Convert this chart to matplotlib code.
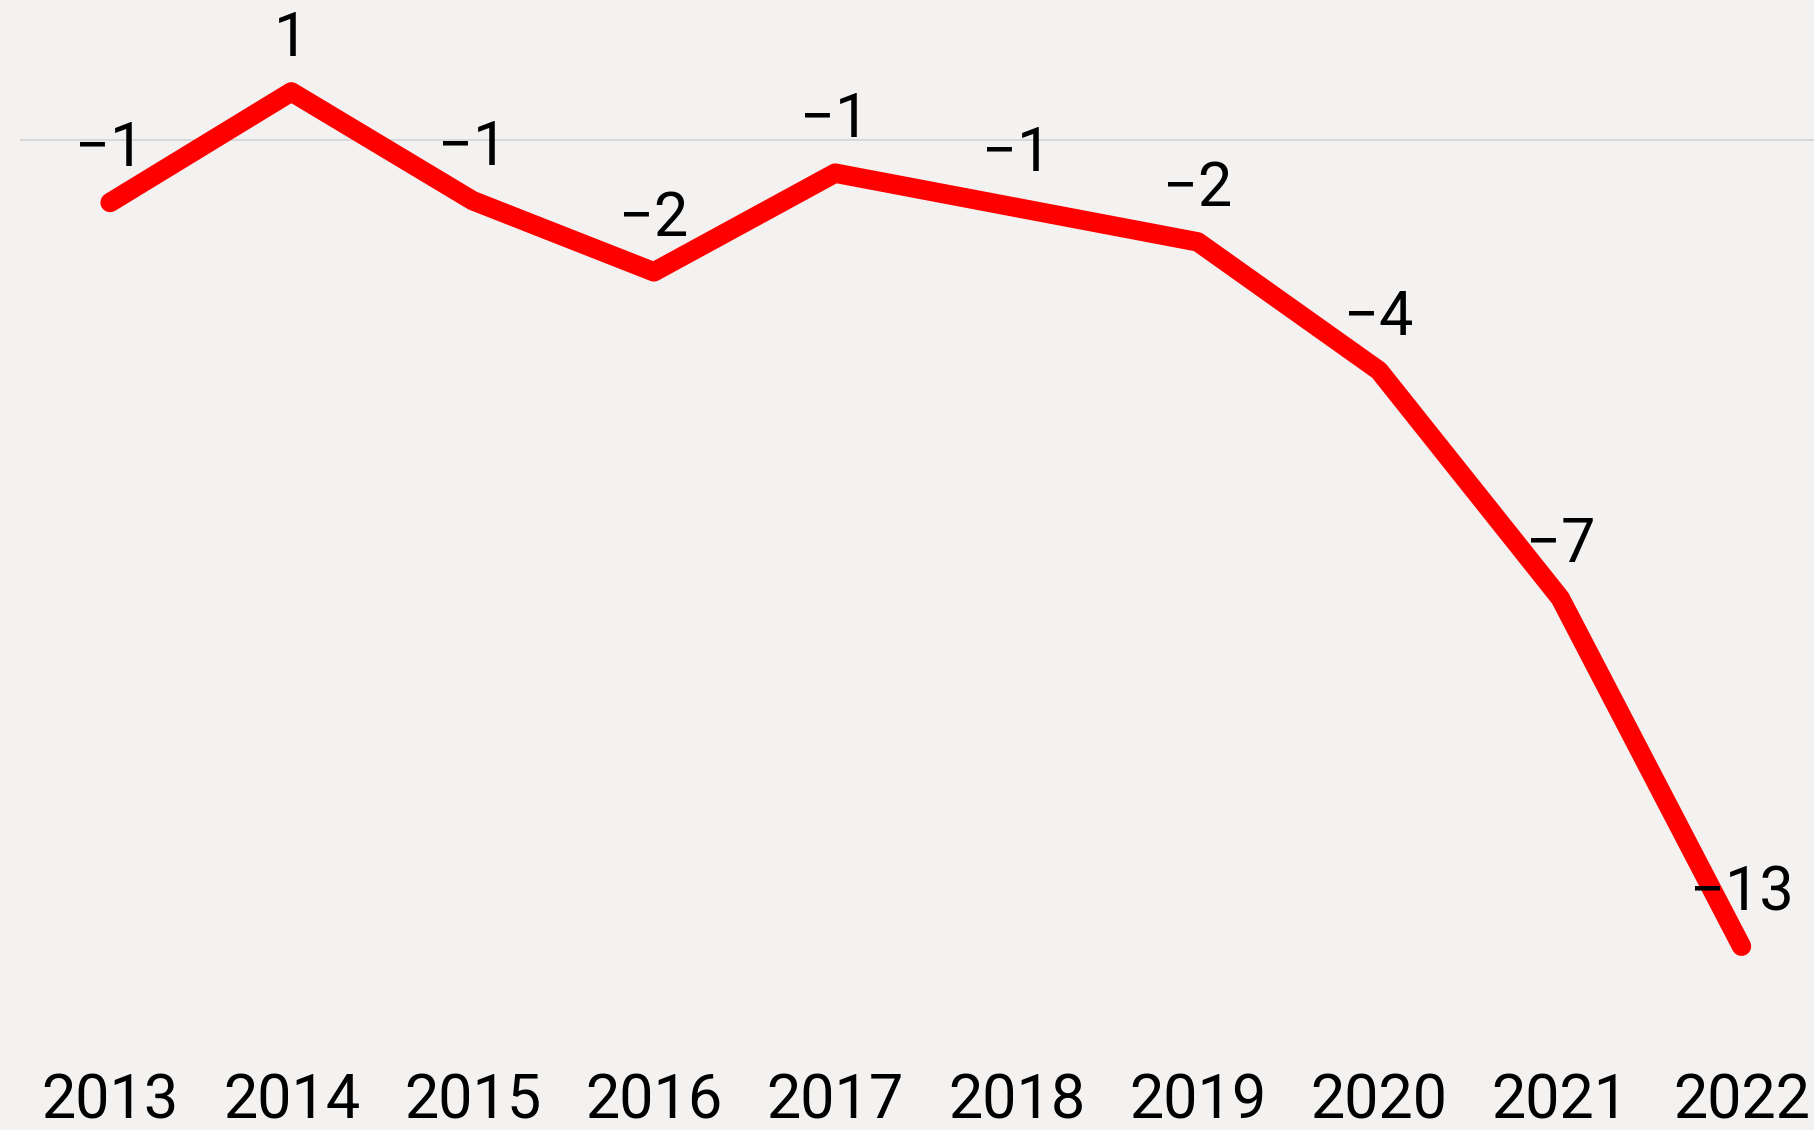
import matplotlib.pyplot as plt

years = ['2013', '2014', '2015', '2016', '2017', '2018', '2019', '2020', '2021', '2022']
values = [-1.0, 0.77, -0.97, -2.11, -0.53, -1.08, -1.63, -3.69, -7.33, -12.9]

plt.rcParams['font.family'] = ['Roboto', 'DejaVu Sans']

bg = '#f3f2f1'
fig = plt.figure(figsize=(18.14, 11.30), dpi=100, facecolor=bg)
ax = fig.add_axes([20 / 1814, 70 / 1130, 1794 / 1814, 1060 / 1130], facecolor=bg)

x = list(range(len(years)))
ax.axhline(0, color='#d8d8d8', lw=1.4, zorder=1)
ax.plot(x, values, color='#ff0000', lw=14, solid_capstyle='round',
        solid_joinstyle='round', zorder=3)

# value labels above the points
for xi, v in zip(x, values):
    lab = f'{round(v):d}'.replace('-', '\u2212')
    ax.annotate(lab, (xi, v), xytext=(0, 26), textcoords='offset points',
                ha='center', va='baseline', fontsize=44, color='black', zorder=4)

ax.set_xlim(-0.497, 9.40)
ax.set_ylim(-14.72, 2.24)
ax.set_xticks(x)
ax.set_xticklabels(years, fontsize=44)
ax.tick_params(axis='x', length=0, pad=9)
ax.set_yticks([])
for s in ax.spines.values():
    s.set_visible(False)

fig.savefig('out.png', dpi=100, facecolor=bg)
